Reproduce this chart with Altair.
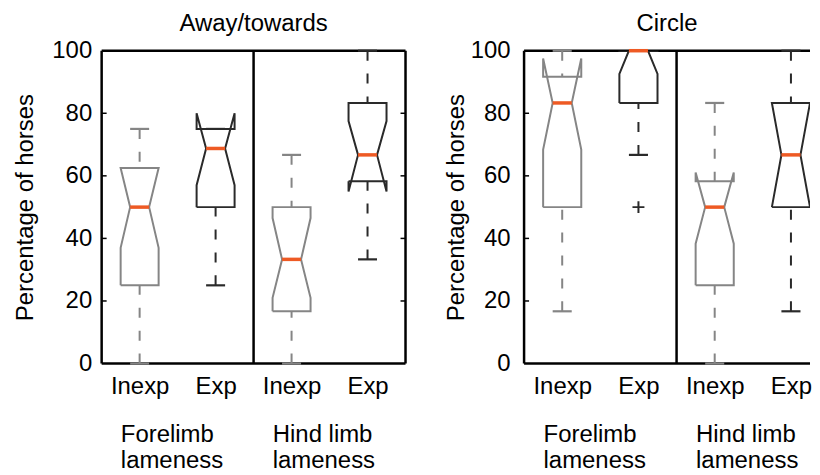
import json
import altair as alt
import pandas as pd

# ---------------- data ----------------
panel_titles = ["Away/towards", "Circle"]
positions = [0.5, 1.5, 2.5, 3.5]
experience = ["Inexp", "Exp", "Inexp", "Exp"]
limb_groups = ["Forelimb\nlameness", "Hind limb\nlameness"]
limb_centres = [1.0, 3.0]
y_ticks = [0, 20, 40, 60, 80, 100]
inner_ticks = [20, 40, 60, 80]
divider_at = [2.0]

# Away/towards
at_lower = [0, 25, 0, 33.3]
at_q1 = [25, 50, 16.7, 58.3]
at_notch_lo = [37, 57, 21, 55]
at_median = [50, 68.75, 33.3, 66.7]
at_notch_hi = [62.5, 80, 46.5, 77.5]
at_q3 = [62.5, 75, 50, 83.3]
at_upper = [75, 75, 66.7, 100]
at_out_pos = []
at_out_val = []

# Circle
ci_lower = [16.7, 66.7, 0, 16.7]
ci_q1 = [50, 83.3, 25, 50]
ci_notch_lo = [68.4, 92.6, 38.3, 50]
ci_median = [83.3, 100, 50, 66.7]
ci_notch_hi = [97.5, 107.4, 61.1, 83.3]
ci_q3 = [91.7, 100, 58.3, 83.3]
ci_upper = [100, 100, 83.3, 100]
ci_out_pos = [1.5]
ci_out_val = [50]

GRAY = "#858585"
DARK = "#2a2a2a"
ORANGE = "#ee5a24"
BOX_HALF = 0.25
NOTCH_HALF = 0.125
CAP_HALF = 0.125
FS = 24
H = 314

color_scale = alt.Scale(domain=["Inexp", "Exp"], range=[GRAY, DARK])


def panel(title, lower, q1, nlo, med, nhi, q3, upper, out_pos, out_val,
          width, x_max, right_border, label_pad, title_pad):
    outline, whisk, caps, meds = [], [], [], []
    for i, p in enumerate(positions):
        pts = [(p - BOX_HALF, q1[i]), (p - BOX_HALF, nlo[i]), (p - NOTCH_HALF, med[i]),
               (p - BOX_HALF, nhi[i]), (p - BOX_HALF, q3[i]), (p + BOX_HALF, q3[i]),
               (p + BOX_HALF, nhi[i]), (p + NOTCH_HALF, med[i]), (p + BOX_HALF, nlo[i]),
               (p + BOX_HALF, q1[i]), (p - BOX_HALF, q1[i])]
        for k, (x, y) in enumerate(pts):
            outline.append({"box": i, "ord": k, "x": x, "y": y, "exp": experience[i]})
        whisk.append({"x": p, "y": upper[i], "y2": q3[i], "exp": experience[i]})
        whisk.append({"x": p, "y": lower[i], "y2": q1[i], "exp": experience[i]})
        caps.append({"x": p - CAP_HALF, "x2": p + CAP_HALF, "y": upper[i], "exp": experience[i]})
        caps.append({"x": p - CAP_HALF, "x2": p + CAP_HALF, "y": lower[i], "exp": experience[i]})
        meds.append({"x": p - NOTCH_HALF, "x2": p + NOTCH_HALF, "y": med[i]})

    xs = alt.Scale(domain=[0, x_max], nice=False, zero=False)
    ys = alt.Scale(domain=[0, 100], nice=False)
    label_expr = json.dumps(experience) + "[floor(datum.value)]"
    xax = alt.Axis(values=positions, labelExpr=label_expr, ticks=False, domain=False,
                   grid=False, title=None, labelFontSize=FS, labelPadding=11,
                   labelColor="black")
    yax = alt.Axis(values=y_ticks, ticks=False, domain=False, grid=False,
                   title="Percentage of horses", titleFontSize=FS, titleFontWeight="normal",
                   titleColor="black", labelFontSize=FS, labelColor="black",
                   labelPadding=label_pad, titlePadding=title_pad)
    col = alt.Color("exp:N", scale=color_scale, legend=None)
    X = lambda f: alt.X(f, scale=xs, axis=xax)
    Y = lambda f: alt.Y(f, scale=ys, axis=yax)

    # frame
    vlines = [0.0] + ([x_max] if right_border else [])
    frame_v = alt.Chart(pd.DataFrame({"x": vlines + divider_at})).mark_rule(
        strokeWidth=2.5, color="black").encode(x=X("x:Q"), y=alt.value(0), y2=alt.value(H))
    frame_h = alt.Chart(pd.DataFrame({"y": [0, 100]})).mark_rule(
        strokeWidth=2.5, color="black").encode(y=Y("y:Q"), x=alt.value(0), x2=alt.value(width))

    base_outline = alt.Chart(pd.DataFrame(outline)).mark_line(strokeWidth=2, clip=True).encode(
        x=X("x:Q"), y=Y("y:Q"), detail="box:N", order="ord:Q", color=col)

    whiskers = alt.Chart(pd.DataFrame(whisk)).mark_rule(strokeWidth=2, strokeDash=[10, 13]).encode(
        x=X("x:Q"), y=Y("y:Q"), y2="y2:Q", color=col)

    capm = alt.Chart(pd.DataFrame(caps)).mark_rule(strokeWidth=2.2).encode(
        x=X("x:Q"), x2="x2:Q", y=Y("y:Q"), color=col)

    medm = alt.Chart(pd.DataFrame(meds)).mark_rule(strokeWidth=3.5, color=ORANGE).encode(
        x=X("x:Q"), x2="x2:Q", y=Y("y:Q"))

    tdf = pd.DataFrame({"y": inner_ticks})
    tick_l = alt.Chart(tdf).mark_rule(strokeWidth=1.5, color="black").encode(
        y=Y("y:Q"), x=alt.value(0), x2=alt.value(5))

    groups = alt.Chart(pd.DataFrame({"x": limb_centres, "t": limb_groups})).mark_text(
        align="left", baseline="alphabetic", dx=-57, fontSize=FS, lineHeight=26,
        lineBreak="\n", color="black").encode(x=X("x:Q"), y=alt.value(393), text="t:N")

    layers = [frame_h, frame_v, tick_l, base_outline, whiskers, capm, medm, groups]
    if right_border:
        tick_r = alt.Chart(tdf).mark_rule(strokeWidth=1.5, color="black").encode(
            y=Y("y:Q"), x=alt.value(width - 5), x2=alt.value(width))
        layers.append(tick_r)
    if out_pos:
        odf = pd.DataFrame({"x": out_pos, "y": out_val})
        outl = alt.Chart(odf).mark_point(shape="M-1,0L1,0M0,-1L0,1", size=144, filled=False,
                                         strokeWidth=2, color=DARK, opacity=1).encode(
            x=X("x:Q"), y=Y("y:Q"))
        layers.append(outl)

    return alt.layer(*layers).properties(
        width=width, height=H,
        title=alt.TitleParams(title, fontSize=FS, fontWeight="normal", color="black",
                              baseline="alphabetic", offset=-16, frame="group"))


left = panel(panel_titles[0], at_lower, at_q1, at_notch_lo, at_median, at_notch_hi, at_q3,
             at_upper, at_out_pos, at_out_val, 305, 4.0, True, 10, 14)
right = panel(panel_titles[1], ci_lower, ci_q1, ci_notch_lo, ci_median, ci_notch_hi, ci_q3,
              ci_upper, ci_out_pos, ci_out_val, 287, 3.75, False, 14, 2)

chart = alt.hconcat(left, right, spacing=36).properties(
    padding={"left": 5, "top": 3, "right": 0, "bottom": 0}
).configure(font="Liberation Sans").configure_view(stroke="transparent", strokeWidth=0)

chart.save("out.html", embed_options={"renderer": "svg", "actions": False})
